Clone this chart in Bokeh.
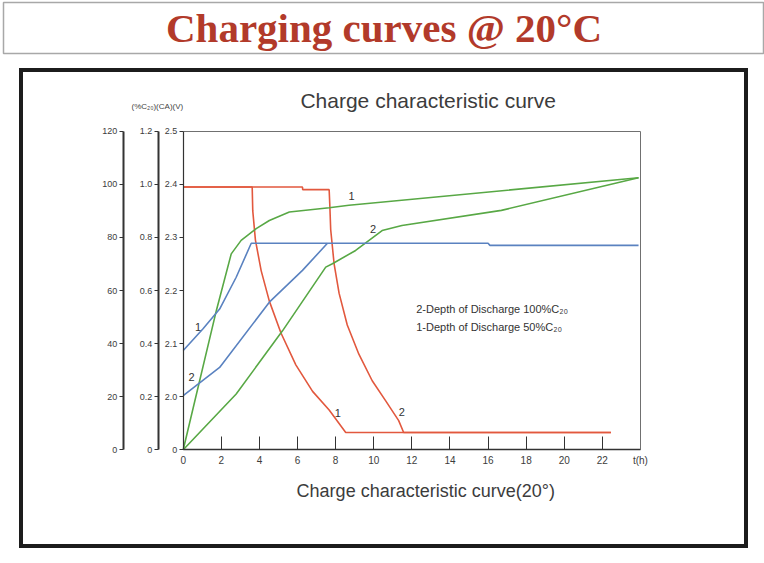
from bokeh.plotting import figure
from bokeh.models import Range1d, LinearAxis, FixedTicker, Label
from bokeh.layouts import column
from bokeh.embed import file_html
from bokeh.resources import INLINE

# ---------------- data ----------------
# charging current (CA) vs time (h)
cur1_t = [0, 3.62, 3.65, 3.79, 4.09, 4.52, 5.13, 5.91, 6.79, 7.66, 8.53, 22.45]
cur1_v = [0.99, 0.99, 0.90, 0.79, 0.675, 0.56, 0.44, 0.32, 0.22, 0.15, 0.065, 0.065]
cur2_t = [0, 6.26, 6.27, 7.66, 7.69, 7.74, 7.92, 8.18, 8.61, 9.22, 9.92, 10.62, 11.31, 11.57, 22.45]
cur2_v = [0.99, 0.99, 0.98, 0.98, 0.93, 0.83, 0.70, 0.59, 0.47, 0.36, 0.26, 0.185, 0.11, 0.065, 0.065]

# charged capacity (%C) vs time (h)
cap1_t = [0, 1.74, 2.52, 3.04, 3.83, 4.52, 5.57, 7.66, 8.70, 23.9]
cap1_v = [0, 52.5, 73.8, 78.9, 83.3, 86.4, 89.6, 91.2, 92.1, 102.5]
cap2_t = [0, 2.78, 5.22, 7.48, 7.83, 9.05, 10.44, 11.48, 16.7, 23.9]
cap2_v = [0, 21.0, 44.9, 68.8, 70.1, 75.1, 82.6, 84.5, 90.2, 102.5]

# charging voltage (V) vs time (h)
volt1_t = [0, 1.04, 1.91, 2.78, 3.57, 16.0, 16.1, 23.9]
volt1_v = [2.087, 2.128, 2.165, 2.225, 2.289, 2.289, 2.285, 2.285]
volt2_t = [0, 1.91, 4.52, 6.26, 7.57]
volt2_v = [2.002, 2.055, 2.178, 2.238, 2.289]

x_ticks = [0, 2, 4, 6, 8, 10, 12, 14, 16, 18, 20, 22, 24]
x_last_label = "t(h)"
pct_ticks = [0, 20, 40, 60, 80, 100, 120]
cur_ticks = [0, 0.2, 0.4, 0.6, 0.8, 1.0, 1.2]
cur_tick_labels = ["0", "0.2", "0.4", "0.6", "0.8", "1.0", "1.2"]
volt_ticks = [1.9, 2.0, 2.1, 2.2, 2.3, 2.4, 2.5]
volt_tick_labels = ["0", "2.0", "2.1", "2.2", "2.3", "2.4", "2.5"]

notes = ["2-Depth of Discharge 100%C\u2082\u2080", "1-Depth of Discharge 50%C\u2082\u2080"]
units_text = "(%C\u2082\u2080)(CA)(V)"
chart_title = "Charge characteristic curve"
x_title = "Charge characteristic curve(20\u00b0)"
page_title = "Charging curves @ 20\u00b0C"

ORANGE = "#e2583e"
GREEN = "#58a845"
BLUE = "#5a82c0"
FONT = "Liberation Sans"
TXT = "#3c3c3c"

# ---------------- header ----------------
head = figure(width=764, height=68, output_backend="svg", toolbar_location=None,
              x_range=Range1d(0, 1), y_range=Range1d(0, 1), title=None,
              x_axis_location=None, y_axis_location=None,
              min_border_left=3, min_border_right=0, min_border_top=2, min_border_bottom=15)
head.frame_align = False
head.xgrid.visible = False
head.ygrid.visible = False
head.outline_line_color = "#a8a8a8"
head.outline_line_width = 1.5
head.add_layout(Label(x=0.5, y=0.5, text=page_title,
                      text_align="center", text_baseline="middle",
                      text_font="Liberation Serif", text_font_style="bold",
                      text_font_size="41px", text_color="#b23a2a"))

# ---------------- main chart ----------------
# The frame reaches a little beyond the plotted box (left of t=0, right of 24,
# above 120 and below 0) so that the stacked axes and the texts around the box
# are drawn inside it; the visible box is drawn by bounded axes.
p = figure(width=729, height=480, output_backend="svg", toolbar_location=None,
           x_range=Range1d(-4.5, 25), y_range=Range1d(-21, 138), title=None,
           y_axis_location=None,
           min_border_left=78, min_border_right=89, min_border_top=15, min_border_bottom=43)
p.frame_align = False
p.extra_y_ranges = {"cur": Range1d(-0.21, 1.38), "volt": Range1d(1.795, 2.59)}
p.xgrid.visible = False
p.ygrid.visible = False
p.outline_line_color = None
p.background_fill_color = None
p.border_fill_color = None

xa = p.xaxis[0]
xa.fixed_location = 0
xa.bounds = (0, 24)
xa.ticker = FixedTicker(ticks=x_ticks)
xa.major_label_overrides = {x_ticks[-1]: x_last_label}
xa.major_tick_in = 13
xa.major_tick_out = 0
xa.minor_tick_in = 0
xa.minor_tick_out = 0
xa.axis_line_color = "#333333"
xa.axis_line_width = 1.5
xa.major_tick_line_color = "#333333"
xa.major_label_text_font = FONT
xa.major_label_text_font_size = "10px"
xa.major_label_text_color = TXT
xa.major_label_standoff = 5

# top and right edges of the plot box
top_ax = LinearAxis(ticker=FixedTicker(ticks=[]), bounds=(0, 24), fixed_location=120,
                    axis_line_color="#707070", axis_line_width=1,
                    major_tick_in=0, major_tick_out=0, minor_tick_in=0, minor_tick_out=0)
p.add_layout(top_ax, "above")
right_ax = LinearAxis(ticker=FixedTicker(ticks=[]), bounds=(0, 120), fixed_location=24,
                      axis_line_color="#707070", axis_line_width=1,
                      major_tick_in=0, major_tick_out=0, minor_tick_in=0, minor_tick_out=0)
p.add_layout(right_ax, "right")


def style_y(ax, width):
    ax.major_tick_out = 4
    ax.major_tick_in = 0
    ax.minor_tick_in = 0
    ax.minor_tick_out = 0
    ax.axis_line_color = "#333333"
    ax.axis_line_width = width
    ax.major_tick_line_color = "#333333"
    ax.major_label_text_font = FONT
    ax.major_label_text_font_size = "9px"
    ax.major_label_text_color = TXT
    ax.major_label_standoff = 2


ax_v = LinearAxis(y_range_name="volt", ticker=FixedTicker(ticks=volt_ticks),
                  major_label_overrides=dict(zip(volt_ticks, volt_tick_labels)),
                  bounds=(1.9, 2.5), fixed_location=0)
style_y(ax_v, 1.2)
ax_c = LinearAxis(y_range_name="cur", ticker=FixedTicker(ticks=cur_ticks),
                  major_label_overrides=dict(zip(cur_ticks, cur_tick_labels)),
                  bounds=(0, 1.2), fixed_location=-1.31)
style_y(ax_c, 2)
ax_p = LinearAxis(ticker=FixedTicker(ticks=pct_ticks), bounds=(0, 120), fixed_location=-3.15)
style_y(ax_p, 2)
p.add_layout(ax_v, "left")
p.add_layout(ax_c, "left")
p.add_layout(ax_p, "left")

# curves
p.line(cur1_t, cur1_v, y_range_name="cur", line_color=ORANGE, line_width=1.6)
p.line(cur2_t, cur2_v, y_range_name="cur", line_color=ORANGE, line_width=1.6)
p.line(cap1_t, cap1_v, line_color=GREEN, line_width=1.6)
p.line(cap2_t, cap2_v, line_color=GREEN, line_width=1.6)
p.line(volt1_t, volt1_v, y_range_name="volt", line_color=BLUE, line_width=1.6)
p.line(volt2_t, volt2_v, y_range_name="volt", line_color=BLUE, line_width=1.6)

# curve numbers
for (lx, ly, t) in [(8.12, 14.0, "1"), (11.47, 14.1, "2"), (8.84, 95.8, "1"),
                    (9.97, 83.3, "2"), (0.78, 46.2, "1"), (0.44, 27.3, "2")]:
    p.add_layout(Label(x=lx, y=ly, text=t, text_align="center", text_baseline="middle",
                       text_font=FONT, text_font_size="11px", text_color="#333333"))

# notes
for i, t in enumerate(notes):
    p.add_layout(Label(x=12.23, y=53.2, y_offset=-18 * i, text=t, text_align="left",
                       text_baseline="middle", text_font=FONT, text_font_size="11px",
                       text_color="#333333"))

# chart title, x-axis title and units over the three y axes
p.add_layout(Label(x=12.86, y=131.7, text=chart_title, text_align="center",
                   text_baseline="middle", text_font=FONT, text_font_size="21px",
                   text_color=TXT))
p.add_layout(Label(x=12.73, y=-15.5, text=x_title, text_align="center",
                   text_baseline="middle", text_font=FONT, text_font_size="18px",
                   text_color=TXT))
p.add_layout(Label(x=0, y=129.4, text=units_text, text_align="right", text_baseline="middle",
                   text_font=FONT, text_font_size="8px", text_color="#444444"))

p.styles = {"outline": "4px solid #1c1c1c", "outline-offset": "-4px"}
p.margin = (0, 0, 0, 19)

layout = column(head, p)
open("out.html", "w").write(file_html(layout, INLINE))
